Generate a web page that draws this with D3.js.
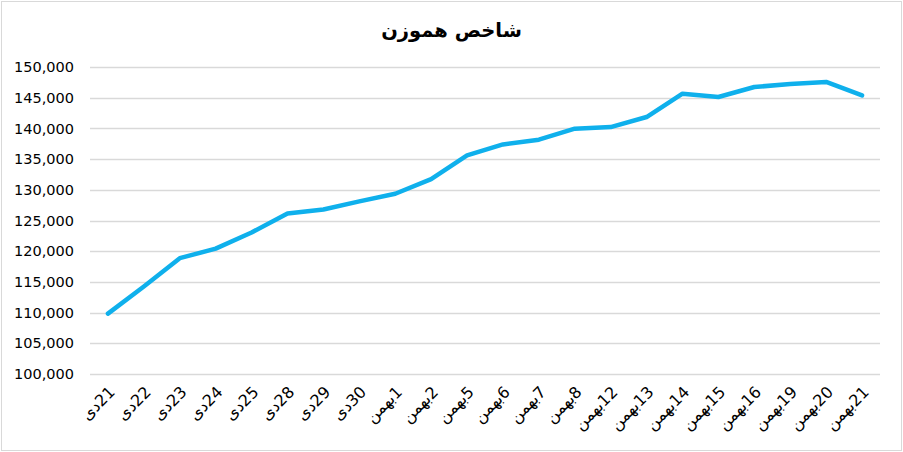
<!DOCTYPE html>
<html><head><meta charset="utf-8">
<script src="https://cdn.jsdelivr.net/npm/d3@7"></script>
<style>body{margin:0;background:#fff}svg{display:block}</style>
</head><body>
<svg id="c" width="903" height="452"></svg>
<script>
const title = "شاخص هموزن";
const categories = ["21دی","22دی","23دی","24دی","25دی","28دی","29دی","30دی",
  "1بهمن","2بهمن","5بهمن","6بهمن","7بهمن","8بهمن","12بهمن","13بهمن","14بهمن","15بهمن","16بهمن","19بهمن","20بهمن","21بهمن"];
const values = [109840,114250,118860,120420,123050,126140,126790,128120,
  129350,131740,135600,137390,138160,139950,140220,141850,145650,145110,146740,147230,147560,145380];
const yTicks = [100000,105000,110000,115000,120000,125000,130000,135000,140000,145000,150000];

const svg = d3.select("#c");
const W = 903, H = 452;
const m = {left: 90, right: 23, top: 67, bottom: 78};
svg.append("rect").attr("x",1.5).attr("y",1.5).attr("width",W-3).attr("height",H-3)
  .attr("fill","#fff").attr("stroke","#d9d9d9").attr("stroke-width",1);

const x = d3.scaleBand().domain(categories).range([m.left, W-m.right]);
const y = d3.scaleLinear().domain([100000,150000]).range([H-m.bottom, m.top]);

// gridlines
svg.append("g").selectAll("line").data(yTicks).join("line")
  .attr("x1", m.left).attr("x2", W-m.right)
  .attr("y1", d=>Math.round(y(d))+0.5).attr("y2", d=>Math.round(y(d))+0.5)
  .attr("stroke","#d9d9d9").attr("stroke-width",1.3);

// y axis labels
const fmt = d3.format(",");
const ya = svg.append("g").attr("transform",`translate(${m.left},0)`)
  .call(d3.axisLeft(y).tickValues(yTicks).tickFormat(fmt).tickSize(0).tickPadding(16));
ya.select(".domain").remove();
ya.selectAll("text").attr("font-family","DejaVu Sans, Verdana, sans-serif").attr("font-size","14.5px").attr("fill","#000");

// x axis labels
const xa = svg.append("g").attr("transform",`translate(0,${H-m.bottom})`)
  .call(d3.axisBottom(x).tickSize(0).tickPadding(0));
xa.select(".domain").remove();
xa.selectAll(".tick text")
  .attr("font-family","DejaVu Sans, Verdana, sans-serif").attr("font-size","16px").attr("fill","#000")
  .attr("direction","rtl").attr("text-anchor","start")
  .attr("dy",null).attr("y",0)
  .attr("transform","translate(8,19) rotate(-45)");

// line
const line = d3.line().x((d,i)=>x(categories[i]) + x.bandwidth()/2).y(d=>y(d));
svg.append("path").datum(values).attr("d", line)
  .attr("fill","none").attr("stroke","#0fb0ec").attr("stroke-width",4.5)
  .attr("stroke-linejoin","round").attr("stroke-linecap","round");

// title
svg.append("text").attr("x", W/2).attr("y", 37).attr("text-anchor","middle")
  .attr("font-family","DejaVu Sans, Verdana, sans-serif").attr("font-weight","bold").attr("font-size","19.5px")
  .attr("fill","#000").text(title);
</script>
</body></html>
